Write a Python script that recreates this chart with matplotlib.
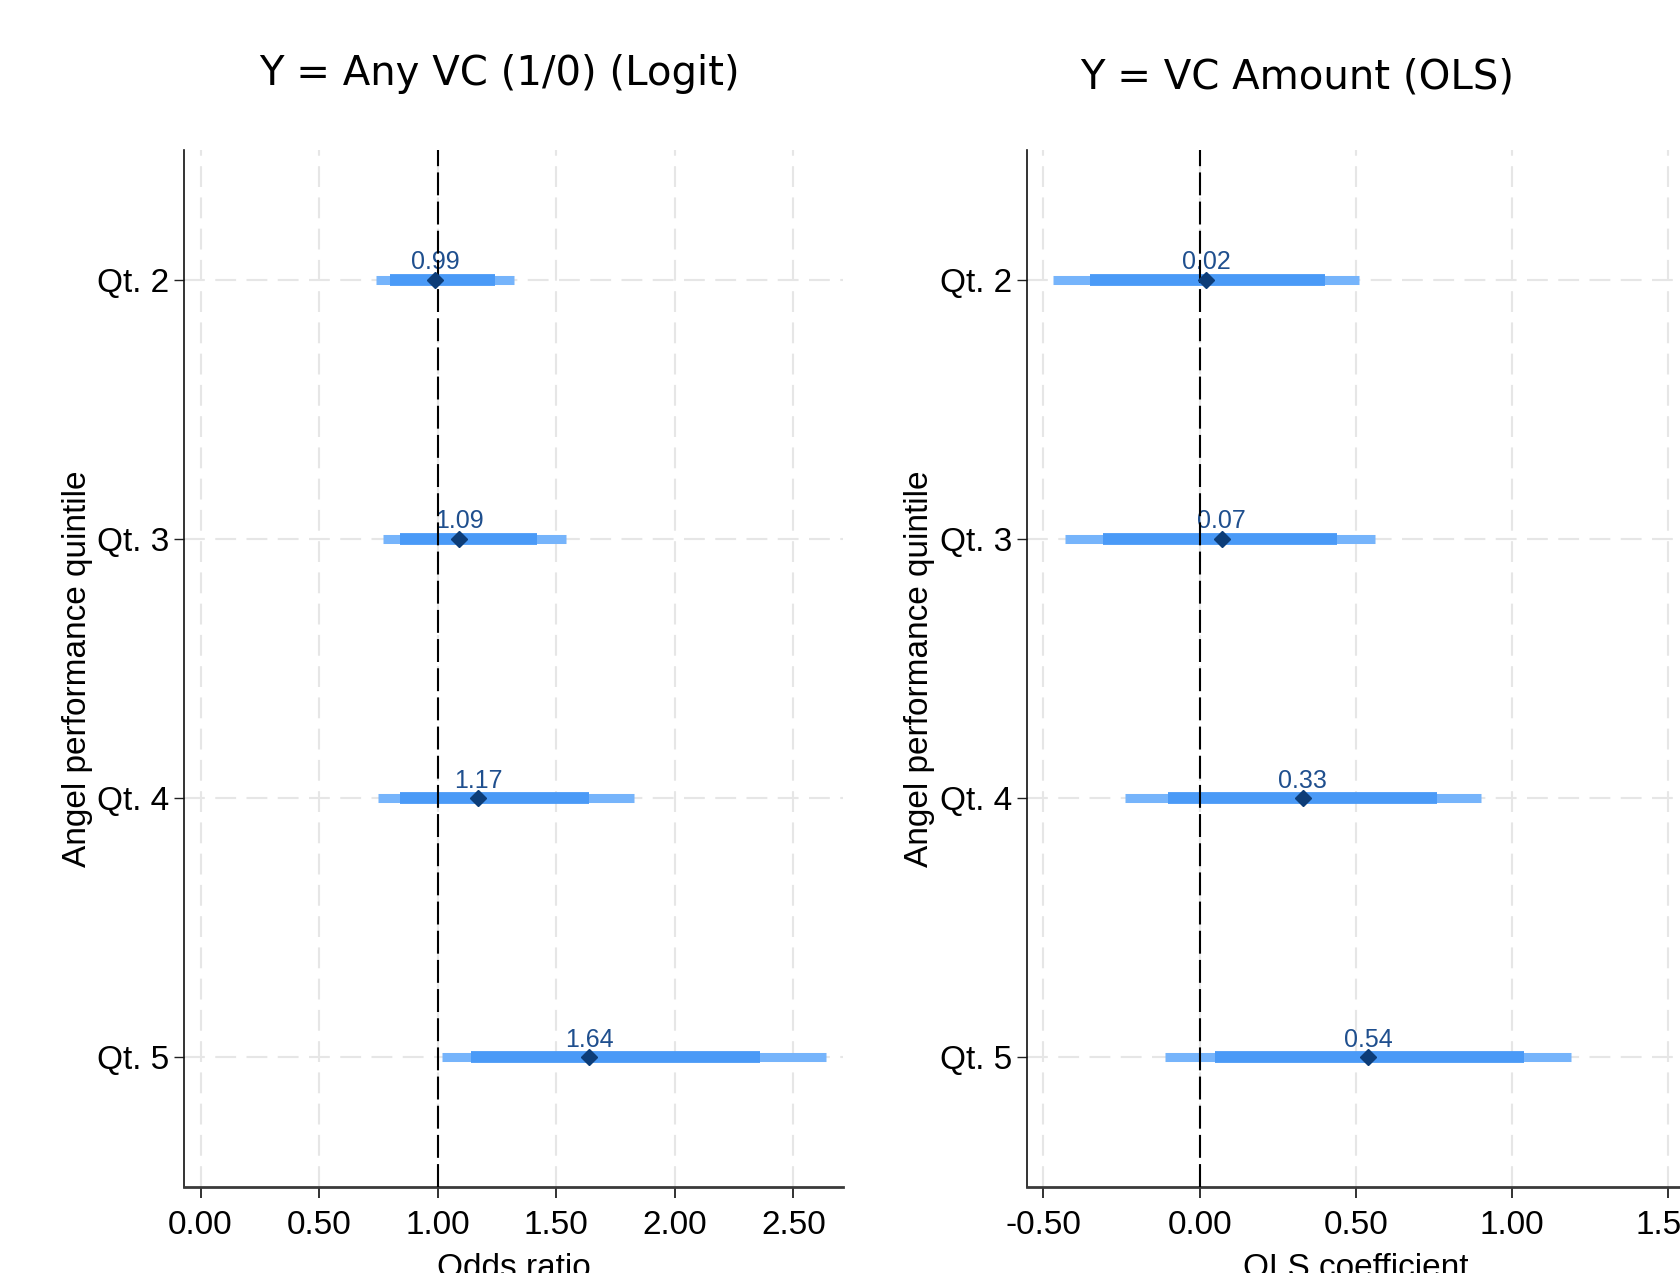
import numpy as np
import matplotlib
matplotlib.use("Agg")
import matplotlib.pyplot as plt

# Daten
quintiles = ["Qt. 2", "Qt. 3", "Qt. 4", "Qt. 5"]
ypos = [2, 3, 4, 5]

# links: Logit, Odds ratio
logit_est = [0.99, 1.09, 1.17, 1.64]
logit_lo95 = [0.74, 0.77, 0.75, 1.02]
logit_hi95 = [1.32, 1.54, 1.83, 2.64]
logit_lo90 = [0.80, 0.84, 0.84, 1.14]
logit_hi90 = [1.24, 1.42, 1.64, 2.36]

# rechts: OLS Koeffizient
ols_est = [0.02, 0.07, 0.33, 0.54]
ols_lo95 = [-0.47, -0.43, -0.24, -0.11]
ols_hi95 = [0.51, 0.56, 0.90, 1.19]
ols_lo90 = [-0.35, -0.31, -0.10, 0.05]
ols_hi90 = [0.40, 0.44, 0.76, 1.04]

ticks_left = [0.0, 0.5, 1.0, 1.5, 2.0, 2.5]
ticks_right = [-0.5, 0.0, 0.5, 1.0, 1.5]

c_outer = "#76b4fb"
c_inner = "#4a9af7"
c_point = "#0d3d78"
c_label = "#1f4f8e"
c_grid = "#e6e6e6"

W, H = 1681, 1273
fig = plt.figure(figsize=(W / 100, H / 100), dpi=100)
plt.rcParams["font.family"] = ["Liberation Sans", "DejaVu Sans"]


def panel(rect, est, lo95, hi95, lo90, hi90, ref, xlim, xticks, xlabel):
    ax = fig.add_axes(rect)
    ax.set_xlim(*xlim)
    ax.set_ylim(5.5, 1.5)

    # Gitter
    for t in xticks:
        ax.axvline(t, color=c_grid, lw=1.5, ls=(0, (10, 5)), zorder=0)
    for y in ypos:
        ax.axhline(y, color=c_grid, lw=1.5, ls=(0, (10, 5)), zorder=0)

    ax.hlines(ypos, lo95, hi95, color=c_outer, lw=6.5, zorder=2)
    ax.hlines(ypos, lo90, hi90, color=c_inner, lw=8.5, zorder=3)
    ax.axvline(ref, color="black", lw=1.5, ls=(0, (11, 3)), zorder=4)
    ax.plot(est, ypos, "D", color=c_point, ms=8, zorder=5)

    for x, y in zip(est, ypos):
        ax.annotate(f"{x:.2f}", xy=(x, y), xytext=(0, 7.5), textcoords="offset points",
                    ha="center", va="baseline", fontsize=18, color=c_label, zorder=3.5)

    ax.set_yticks(ypos)
    ax.set_yticklabels(quintiles)
    ax.set_xticks(xticks)
    ax.set_xticklabels([f"{t:.2f}" for t in xticks])
    ax.tick_params(axis="both", labelsize=24, colors="#222222", labelcolor="black")
    ax.tick_params(axis="y", length=7, width=1, pad=4)
    ax.tick_params(axis="x", length=8, width=1.3, pad=9)
    ax.set_ylabel("Angel performance quintile", fontsize=24, labelpad=3)
    ax.set_xlabel(xlabel, fontsize=24, labelpad=8)

    ax.spines["top"].set_visible(False)
    ax.spines["right"].set_visible(False)
    ax.spines["left"].set_color("#111111")
    ax.spines["left"].set_linewidth(1.2)
    ax.spines["bottom"].set_color("#3a3a3a")
    ax.spines["bottom"].set_linewidth(2)
    return ax


left_px, right_px = 184.4, 842.6
top_px, bot_px = 150.1, 1186.8
w = (right_px - left_px) / W
h = (bot_px - top_px) / H
b = 1 - bot_px / H

panel([left_px / W, b, w, h], logit_est, logit_lo95, logit_hi95, logit_lo90, logit_hi90,
      1.0, (-0.068, 2.708), ticks_left, "Odds ratio")
panel([1027.1 / W, b, w, h], ols_est, ols_lo95, ols_hi95, ols_lo90, ols_hi90,
      0.0, (-0.5525, 1.555), ticks_right, "OLS coefficient")

fig.text(499 / W, 1 - 74 / H, "Y = Any VC (1/0) (Logit)", ha="center", va="center",
         fontsize=29, family=["DejaVu Sans"])
fig.text(1297 / W, 1 - 78 / H, "Y = VC Amount (OLS)", ha="center", va="center",
         fontsize=29, family=["DejaVu Sans"])

fig.savefig("out.png", dpi=100)
